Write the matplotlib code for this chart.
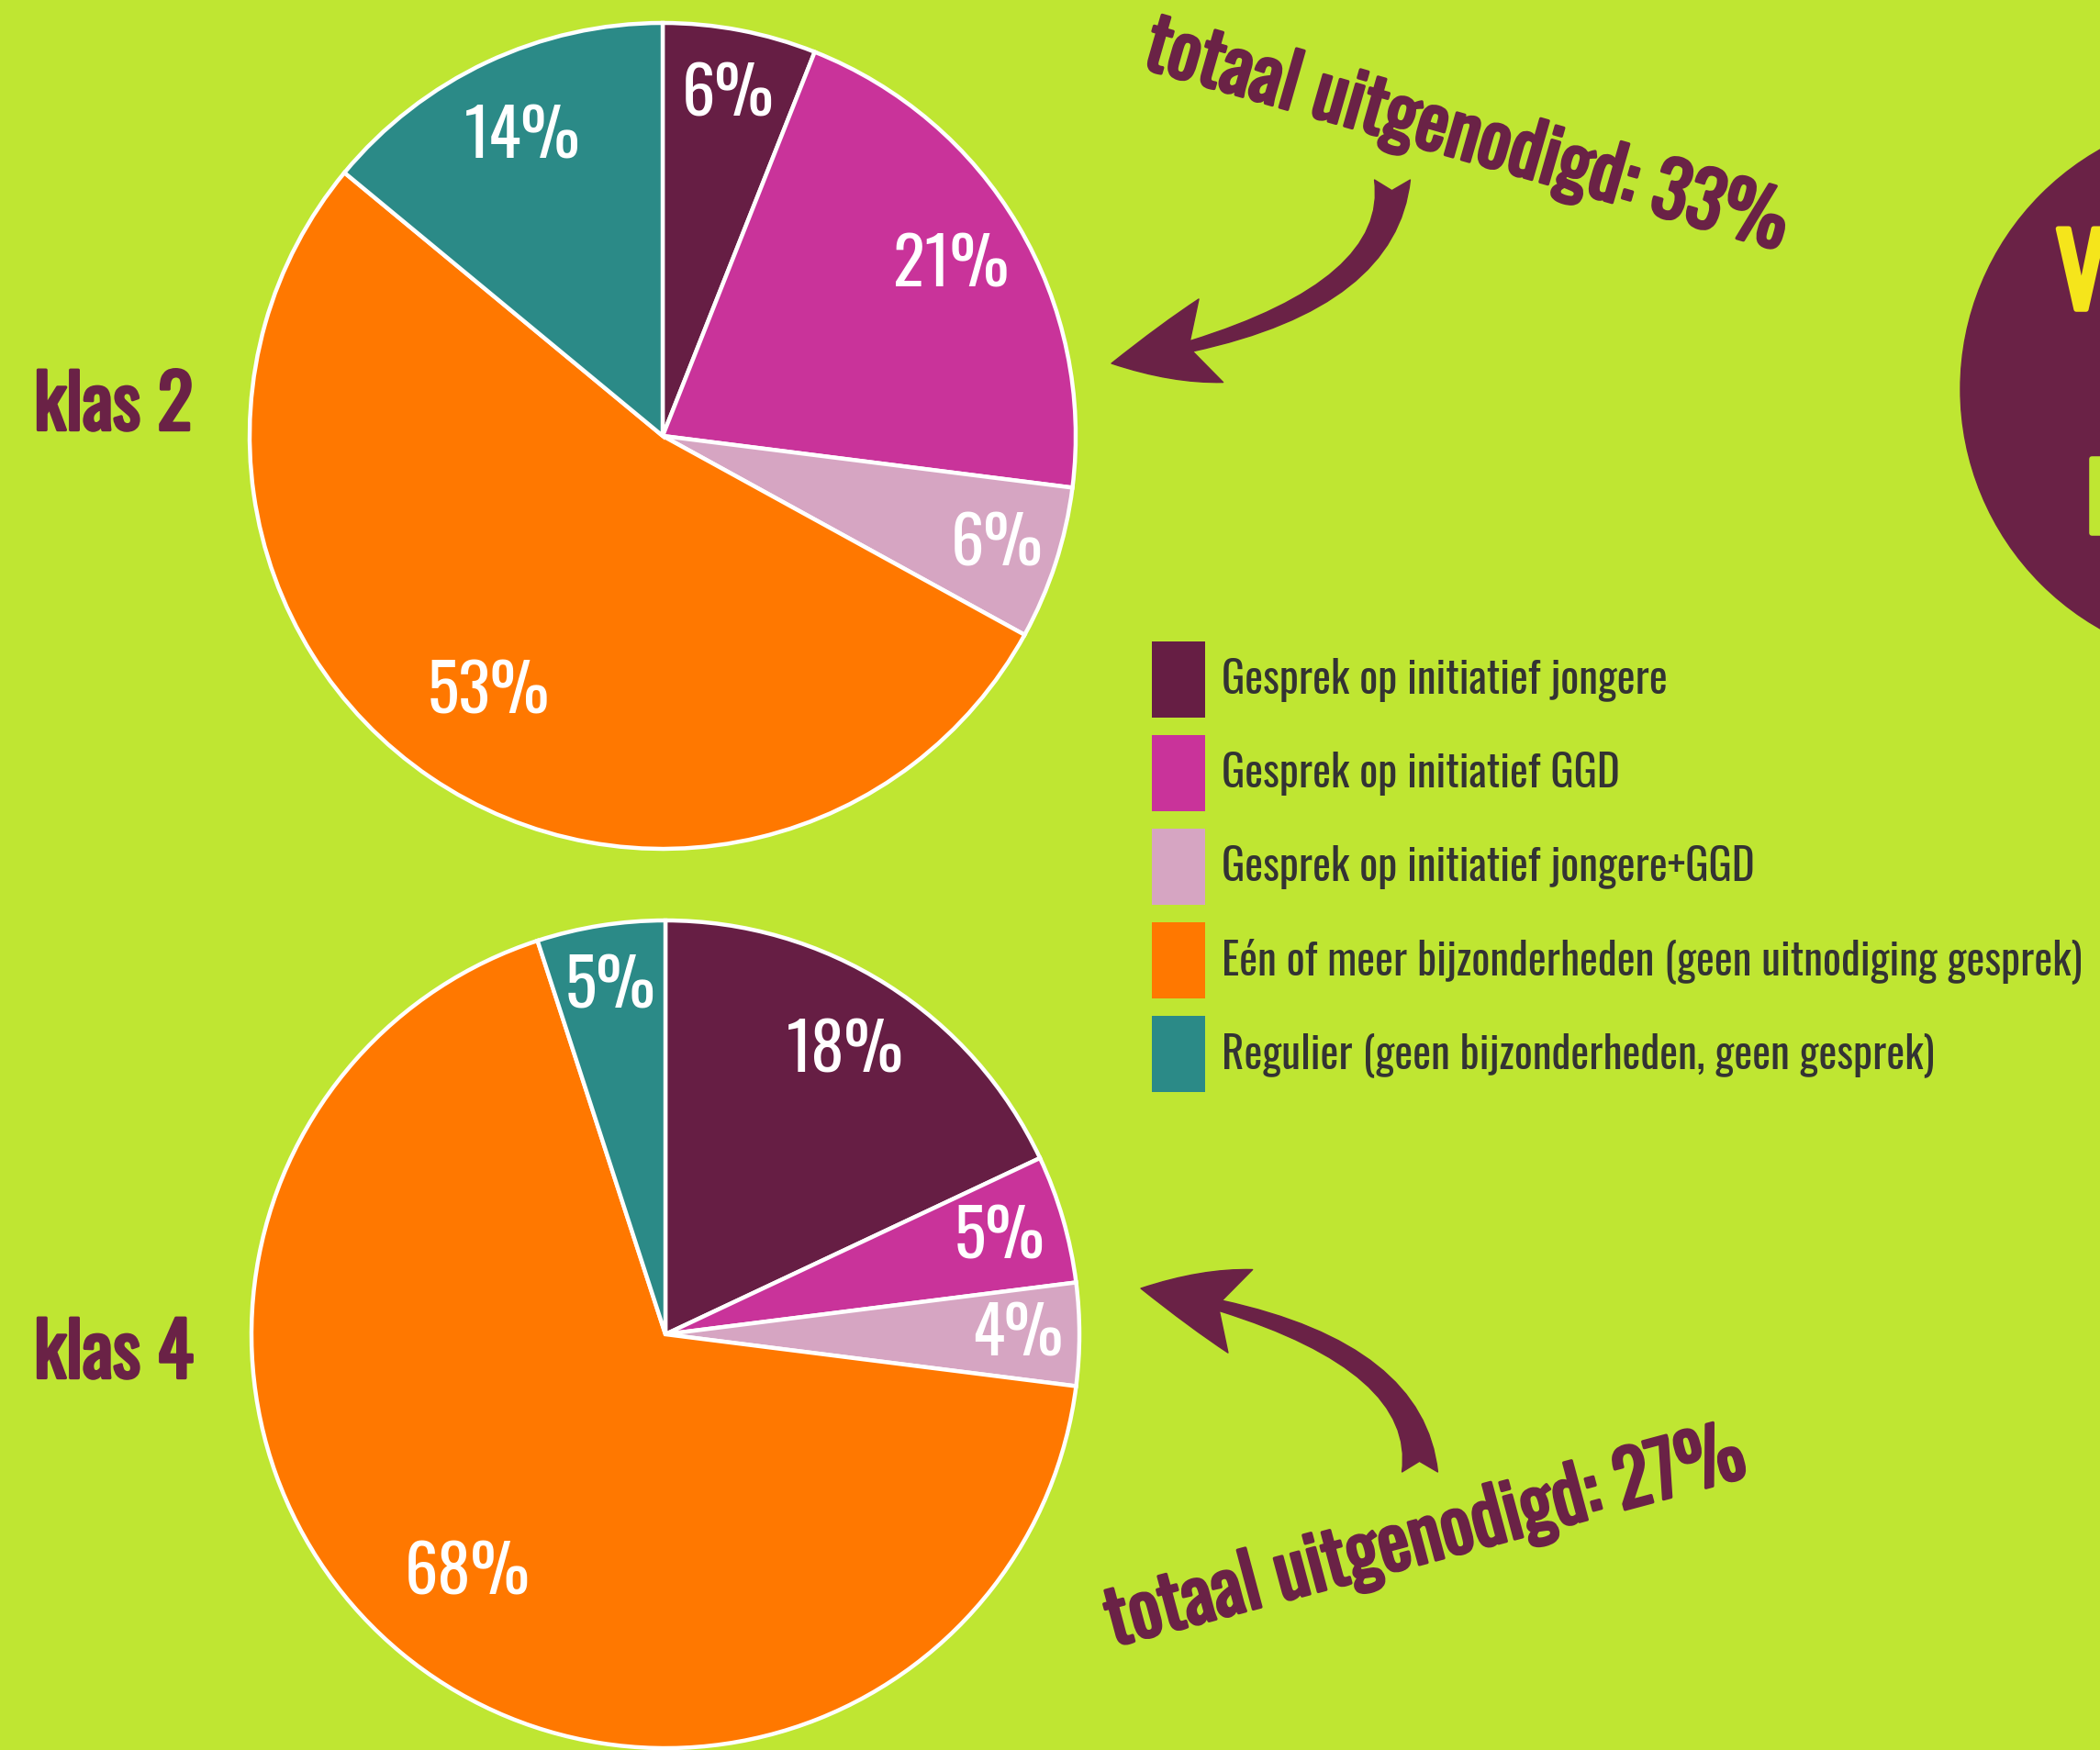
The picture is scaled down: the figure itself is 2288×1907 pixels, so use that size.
import numpy as np
import matplotlib.pyplot as plt
import matplotlib.patheffects as pe
from matplotlib import font_manager
from matplotlib.patches import Patch, Circle, FancyArrowPatch

#canvas size in pixels (dpi 100)
W, H = 2288, 1908

#data
categories = ['Gesprek op initiatief jongere',
              'Gesprek op initiatief GGD',
              'Gesprek op initiatief jongere+GGD',
              'Eén of meer bijzonderheden (geen uitnodiging gesprek)',
              'Regulier (geen bijzonderheden, geen gesprek)']
klas2 = [6, 21, 6, 53, 14]
klas4 = [18, 5, 4, 68, 5]
totaal2 = 33
totaal4 = 27

colors = ['#661e44', '#c9339a', '#d6a5c2', '#ff7800', '#2b8a87']
bg = '#bfe632'
purple = '#6a2246'

#pick a condensed font if one is there
names = set(f.name for f in font_manager.fontManager.ttflist)
reg = 'DejaVu Sans'
for c in ['Oswald', 'Roboto Condensed', 'Liberation Sans Narrow']:
    if c in names:
        reg = c
        break

plt.rcParams['font.family'] = [reg, 'DejaVu Sans']


def heavy(col, w=2.4):
    #the font has no bold cut here, so thicken it with a stroke
    return dict(fontweight='bold', path_effects=[pe.withStroke(linewidth=w, foreground=col)])


fig = plt.figure(figsize=(W/100, H/100), dpi=100, facecolor=bg)
ax = fig.add_axes([0, 0, 1, 1])
ax.set_facecolor(bg)


def draw_pie(values, center, r, dists):
    wedges, _, autotexts = ax.pie(values, colors=colors, startangle=90, counterclock=False,
                                  center=center, radius=r,
                                  wedgeprops=dict(edgecolor='white', linewidth=3.2),
                                  autopct=lambda p: '%.0f%%' % p,
                                  textprops=dict(color='white', fontsize=52))
    #move the labels a bit per slice
    for t, w, d in zip(autotexts, wedges, dists):
        ang = np.deg2rad((w.theta1 + w.theta2) / 2)
        t.set_position((center[0] + d*r*np.cos(ang), center[1] + d*r*np.sin(ang)))
        t.set_ha('center')
        t.set_va('center')


draw_pie(klas2, (722, H-476), 450, [0.84, 0.81, 0.85, 0.75, 0.80])
draw_pie(klas4, (725, H-1455), 451, [0.81, 0.84, 0.85, 0.75, 0.85])

ax.set_xlim(0, W)
ax.set_ylim(0, H)
ax.set_aspect('equal')
ax.axis('off')

#klas labels
ax.text(37, H-445, 'klas 2', color=purple, fontsize=58, ha='left', va='center', **heavy(purple))
ax.text(37, H-1478, 'klas 4', color=purple, fontsize=58, ha='left', va='center', **heavy(purple))

#totals with arrows
ax.text(1598, H-150, 'totaal uitgenodigd: %d%%' % totaal2, color=purple, fontsize=59,
        rotation=-16, rotation_mode='anchor', ha='center', va='center', **heavy(purple))
ax.text(1553, H-1678, 'totaal uitgenodigd: %d%%' % totaal4, color=purple, fontsize=59,
        rotation=15, rotation_mode='anchor', ha='center', va='center', **heavy(purple))

astyle = 'fancy,head_length=80,head_width=68,tail_width=28'
ax.add_patch(FancyArrowPatch((1517, H-197), (1211, H-397),
                             connectionstyle='angle3,angleA=90,angleB=10',
                             arrowstyle=astyle, color=purple, mutation_scale=1,
                             shrinkA=0, shrinkB=0))
ax.add_patch(FancyArrowPatch((1547, H-1605), (1243, H-1405),
                             connectionstyle='angle3,angleA=90,angleB=-10',
                             arrowstyle=astyle, color=purple, mutation_scale=1,
                             shrinkA=0, shrinkB=0))

#cut-off badge on the right
ax.add_patch(Circle((2436, H-425), 300, color=purple, zorder=0))
ax.text(2240, H-250, 'V', color='#f5e51b', fontsize=78, ha='left', va='top', **heavy('#f5e51b', 4))
ax.text(2272, H-500, 'I', color=bg, fontsize=72, ha='left', va='top', **heavy(bg, 4))

#legend
handles = [Patch(facecolor=c, label=l) for c, l in zip(colors, categories)]
ax.legend(handles=handles, loc='upper left', bbox_to_anchor=(1255/W, 1-700/H),
          frameon=False, fontsize=34, handlelength=1.23, handleheight=2.33,
          labelspacing=0.4, handletextpad=0.38, borderpad=0, borderaxespad=0,
          labelcolor='#333333')

fig.savefig('out.png', dpi=100, facecolor=bg)
